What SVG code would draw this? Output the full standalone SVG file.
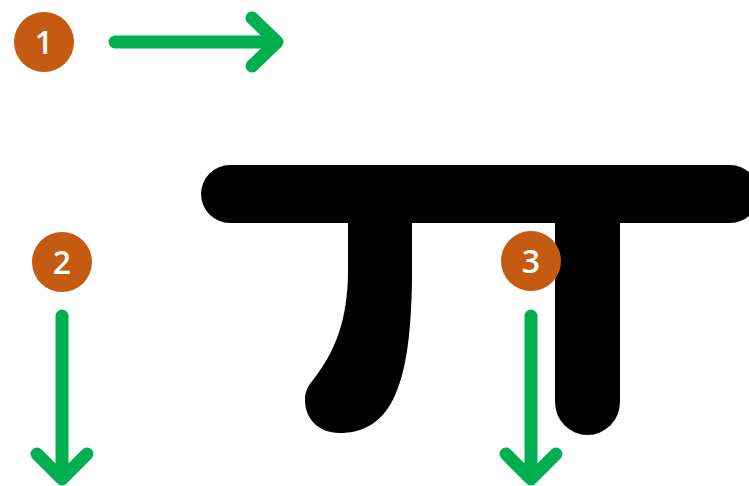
<svg xmlns="http://www.w3.org/2000/svg" width="749" height="486" viewBox="0 0 749 486">
<style>
.badge{fill:#c55a11}
.num{fill:#ffffff;font-family:"Open Sans","Noto Sans","DejaVu Sans",sans-serif;font-size:32px;font-weight:600;text-anchor:middle}
.arrow{fill:none;stroke:#00b050;stroke-width:13;stroke-linecap:round;stroke-linejoin:round}
.ink{fill:#000000}
</style>
<rect width="749" height="486" fill="#ffffff"/>
<g id="character">
  <g id="stroke-1"><rect class="ink" x="201" y="165" width="558" height="58" rx="29" ry="29"/></g>
  <g id="stroke-2"><path class="ink" d="M348,222 L412,222 L412,280 C411,340 405,380 390,405 C378,425 360,433 340,433 C318,433 305,418 305,400 C305,392 308,386 313,380 C335,352 348,320 348,270 Z"/></g>
  <g id="stroke-3"><path class="ink" d="M555,222 L620,222 L620,402 A32.5,33 0 0 1 555,402 Z"/></g>
</g>
<g id="connectors">
  <path class="arrow" d="M115,42 L277,42 M252,18 L277,42 L252,66"/>
  <path class="arrow" d="M62,316 L62,478 M37,454 L62,479 L87,454"/>
  <path class="arrow" d="M531,316 L531,478 M506,454 L531,479 L556,454"/>
</g>
<g id="badge-1"><circle class="badge" cx="44" cy="42" r="30"/><text class="num" x="44" y="53.5">1</text></g>
<g id="badge-2"><circle class="badge" cx="62" cy="262" r="30"/><text class="num" x="62" y="273.5">2</text></g>
<g id="badge-3"><circle class="badge" cx="531" cy="261" r="30"/><text class="num" x="531" y="272.5">3</text></g>
</svg>
